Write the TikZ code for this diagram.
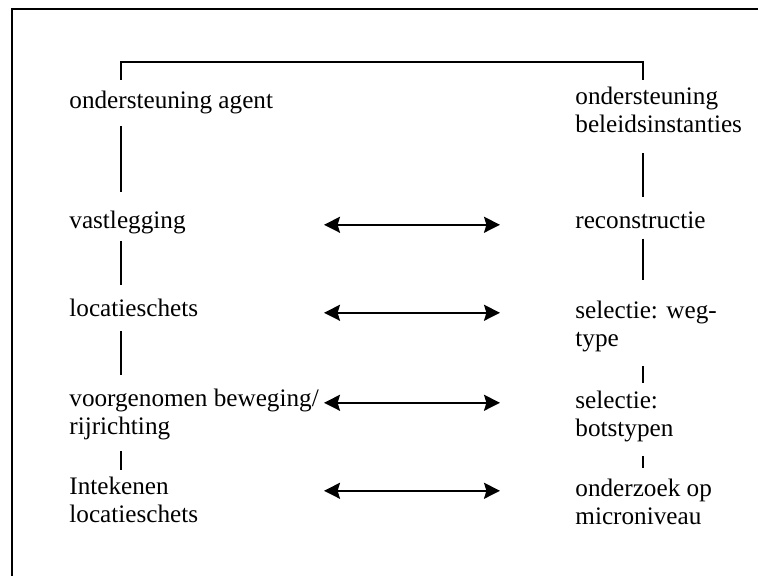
\documentclass[tikz,border=0pt]{standalone}
\usepackage{fontspec}
\setmainfont{Liberation Serif}
\usetikzlibrary{arrows.meta}
\begin{document}
\begin{tikzpicture}[x=0.5pt,y=-0.5pt,
    every node/.style={anchor=north west,inner sep=0pt,align=left,
      font=\fontsize{12.6}{14}\selectfont},
    link/.style={line width=0.75pt},
    dbl/.style={line width=0.9pt,
      {Stealth[length=8pt,width=8pt,inset=1.2pt]}-{Stealth[length=8pt,width=8pt,inset=1.2pt]}}]
  \useasboundingbox (0,0) rectangle (758,576);
  \draw[link] (12,576) -- (12,9) -- (758,9);
  \coordinate (lx) at (121,0);
  \coordinate (rx) at (643,0);
  \coordinate (ml) at (324,0);
  \coordinate (mr) at (500,0);
  \coordinate (top) at (0,62);
  \draw
    (69,90.8) node (agent){ondersteuning agent}
    (69,210.8) node (vast){vastlegging}
    (69,298.8) node (loc){locatieschets}
    (69,388.8) node (voor){voorgenomen beweging/\\rijrichting}
    (69,476.8) node (inte){Intekenen\\locatieschets}
    (575,86.8) node (beleid){ondersteuning\\beleidsinstanties}
    (575,211.8) node (recon){reconstructie}
    (575,300.8) node (weg){selectie: weg-\\type}
    (575,390.8) node (bots){selectie:\\botstypen}
    (575,478.8) node (micro){onderzoek op\\microniveau};
  \draw[link] (agent.north -| lx) ++(0,-10.8) |- (top -| rx) -- ++(0,18);
  \begin{scope}[link]
    \draw[shorten <=5.7pt, shorten >=9.4pt] (agent.south -| lx) to (vast.north -| lx);
    \draw[shorten <=3.2pt, shorten >=6.9pt] (vast.south -| lx) to (loc.north -| lx);
    \draw[shorten <=7pt, shorten >=6.9pt] (loc.south -| lx) to (voor.north -| lx);
    \draw[shorten <=5.2pt, shorten >=3.4pt] (voor.south -| lx) to (inte.north -| lx);
    \draw[shorten <=10pt, shorten >=7.4pt] (beleid.south -| rx) to (recon.north -| rx);
    \draw[shorten <=4.5pt, shorten >=10.4pt] (recon.south -| rx) to (weg.north -| rx);
    \draw[shorten <=6.7pt, shorten >=3.9pt] (weg.south -| rx) to (bots.north -| rx);
    \draw[shorten <=6.7pt, shorten >=5.4pt] (bots.south -| rx) to (micro.north -| rx);
  \end{scope}
  \path (vast.north -| ml) ++(0,14) coordinate (r1);
  \path (loc.north -| ml) ++(0,14) coordinate (r2);
  \path (voor.north -| ml) ++(0,14) coordinate (r3);
  \path (inte.north -| ml) ++(0,14) coordinate (r4);
  \draw[dbl] (r1) to (r1 -| mr);
  \draw[dbl] (r2) to (r2 -| mr);
  \draw[dbl] (r3) to (r3 -| mr);
  \draw[dbl] (r4) to (r4 -| mr);
\end{tikzpicture}
\end{document}
